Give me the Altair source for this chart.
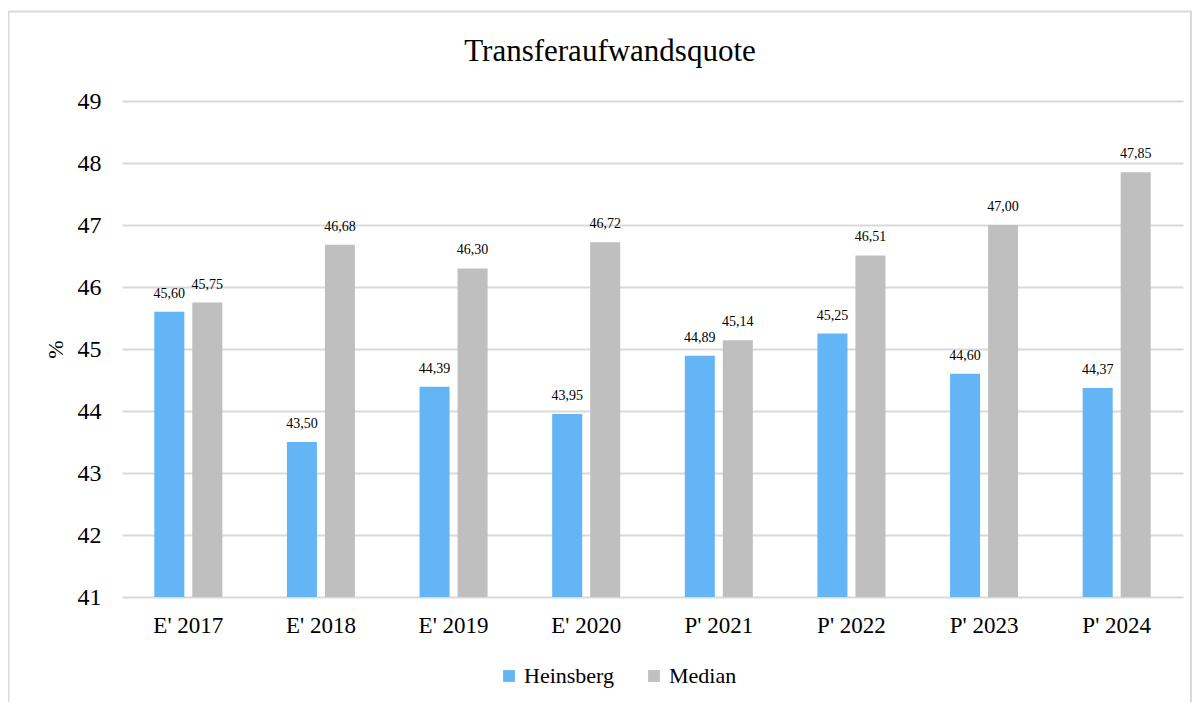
import altair as alt
import pandas as pd

categories = ["E' 2017", "E' 2018", "E' 2019", "E' 2020", "P' 2021", "P' 2022", "P' 2023", "P' 2024"]
heinsberg = [45.60, 43.50, 44.39, 43.95, 44.89, 45.25, 44.60, 44.37]
median = [45.75, 46.68, 46.30, 46.72, 45.14, 46.51, 47.00, 47.85]
series = ["Heinsberg", "Median"]
colors = ["#64b5f6", "#bfbfbf"]
title_text = "Transferaufwandsquote"

rows = []
for c, h, m in zip(categories, heinsberg, median):
    rows.append({"cat": c, "series": "Heinsberg", "value": h, "label": f"{h:.2f}".replace(".", ",")})
    rows.append({"cat": c, "series": "Median", "value": m, "label": f"{m:.2f}".replace(".", ",")})
df = pd.DataFrame(rows)

FONT = "Liberation Serif"

x = alt.X("cat:N", sort=categories, title=None,
          scale=alt.Scale(paddingInner=0, paddingOuter=0),
          axis=alt.Axis(labelAngle=0, labelFontSize=23, labelFont=FONT, labelColor="#000000",
                        ticks=False, domain=False, labelPadding=17))
xo = alt.XOffset("series:N", sort=series,
                 scale=alt.Scale(paddingInner=0.21, paddingOuter=0.85))
y = alt.Y("value:Q", title="%",
          scale=alt.Scale(domain=[41, 49], zero=False, nice=False),
          axis=alt.Axis(values=list(range(41, 50)), labelFontSize=24, labelFont=FONT, labelColor="#000000",
                        ticks=False, domain=False, gridColor="#d9d9d9", gridWidth=2, labelPadding=21,
                        titleFont=FONT, titleFontSize=22, titleFontWeight="normal", titleColor="#000000",
                        titlePadding=10))

base = alt.Chart(df)

bars = base.mark_bar().encode(
    x=x, xOffset=xo, y=y, y2=alt.datum(41),
    color=alt.Color("series:N", sort=series,
                    scale=alt.Scale(domain=series, range=colors),
                    legend=alt.Legend(title=None, orient="none", legendX=376, legendY=564,
                                      direction="horizontal", symbolType="square", symbolSize=140,
                                      symbolStrokeWidth=0, labelFont=FONT, labelFontSize=22,
                                      labelColor="#000000", columnPadding=28, labelOffset=4)),
)

labels = base.mark_text(font=FONT, fontSize=14, color="#000000", baseline="bottom", dy=-11).encode(
    x=x, xOffset=xo, y=y, text="label:N"
)

border = alt.Chart(pd.DataFrame({"a": [0]})).mark_rect(
    fill=None, stroke="#d9d9d9", strokeWidth=2, clip=False
).encode(x=alt.value(-113.5), x2=alt.value(1069), y=alt.value(-89.5), y2=alt.value(620))

title = alt.Chart(pd.DataFrame({"t": [title_text]})).mark_text(
    font=FONT, fontSize=31, color="#000000", baseline="middle", align="center"
).encode(x=alt.value(488), y=alt.value(-49), text="t:N")

chart = alt.layer(border, bars, labels, title).properties(
    width=1061, height=496,
    padding={"left": 114, "top": 93, "right": 9, "bottom": 105},
    autosize=alt.AutoSizeParams(type="none"),
).configure_view(stroke=None).configure_axis(labelFont=FONT, titleFont=FONT).configure_legend(labelFont=FONT)

chart.save("out.html", embed_options={"renderer": "svg", "actions": False})
